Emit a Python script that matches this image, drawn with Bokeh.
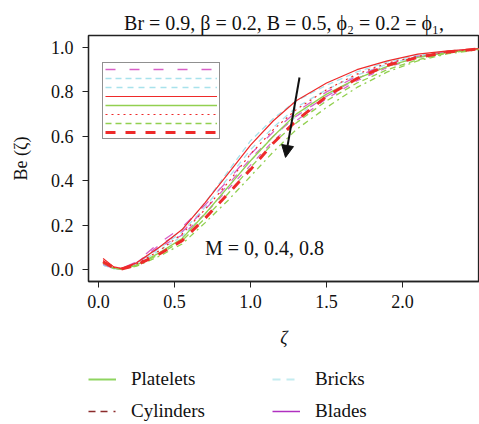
from bokeh.plotting import figure
from bokeh.layouts import column
from bokeh.models import Range1d, Legend, LegendItem, Label, Arrow, NormalHead, FixedTicker, NumeralTickFormatter
from bokeh.embed import file_html
from bokeh.resources import INLINE

SERIF = "Liberation Serif"

zeta = [0.03, 0.1, 0.15, 0.25, 0.4, 0.55, 0.7, 0.85, 1.0, 1.15, 1.3, 1.5, 1.7, 1.9, 2.1, 2.3, 2.5]

cyl_m0 = [0.05, 0.012, 0.005, 0.03, 0.10, 0.18, 0.30, 0.43, 0.56, 0.67, 0.76, 0.84, 0.90, 0.94, 0.97, 0.985, 0.995]
cyl_m4 = [0.04, 0.010, 0.004, 0.025, 0.085, 0.16, 0.27, 0.39, 0.52, 0.63, 0.72, 0.81, 0.88, 0.93, 0.96, 0.98, 0.994]
cyl_m8 = [0.035, 0.008, 0.002, 0.02, 0.07, 0.13, 0.23, 0.34, 0.45, 0.57, 0.67, 0.78, 0.86, 0.92, 0.955, 0.98, 0.993]
pla_m0 = [0.03, 0.006, 0.002, 0.02, 0.075, 0.14, 0.25, 0.37, 0.49, 0.60, 0.70, 0.79, 0.86, 0.915, 0.955, 0.978, 0.993]
pla_m4 = [0.03, 0.006, 0.002, 0.018, 0.068, 0.13, 0.23, 0.34, 0.46, 0.57, 0.66, 0.76, 0.84, 0.90, 0.945, 0.975, 0.992]
pla_m8 = [0.03, 0.005, 0.001, 0.015, 0.06, 0.115, 0.21, 0.31, 0.42, 0.53, 0.63, 0.73, 0.82, 0.89, 0.94, 0.972, 0.99]
bri_m0 = [0.02, 0.004, 0.003, 0.03, 0.10, 0.18, 0.30, 0.44, 0.58, 0.68, 0.76, 0.83, 0.89, 0.935, 0.965, 0.984, 0.994]
bri_m4 = [0.02, 0.004, 0.003, 0.028, 0.095, 0.17, 0.28, 0.41, 0.54, 0.64, 0.73, 0.81, 0.875, 0.925, 0.96, 0.982, 0.993]
bri_m8 = [0.02, 0.004, 0.003, 0.025, 0.085, 0.15, 0.25, 0.37, 0.49, 0.60, 0.69, 0.78, 0.86, 0.915, 0.955, 0.98, 0.992]
bla_m0 = [0.025, 0.005, 0.004, 0.035, 0.12, 0.19, 0.29, 0.40, 0.52, 0.62, 0.71, 0.80, 0.87, 0.925, 0.96, 0.982, 0.994]
bla_m4 = [0.025, 0.005, 0.003, 0.03, 0.11, 0.17, 0.27, 0.38, 0.50, 0.60, 0.69, 0.78, 0.86, 0.92, 0.958, 0.981, 0.993]
bla_m8 = [0.025, 0.005, 0.003, 0.027, 0.10, 0.155, 0.25, 0.36, 0.47, 0.58, 0.67, 0.77, 0.85, 0.91, 0.955, 0.98, 0.992]

legend_labels = ["Platelets", "Cylinders", "Bricks", "Blades"]
title_text = "Br = 0.9, \u03b2 = 0.2, B = 0.5, \u03d5\u2082 = 0.2 = \u03d5\u2081,"
annot_text = "M = 0, 0.4, 0.8"
x_ticks = [0.0, 0.5, 1.0, 1.5, 2.0]
y_ticks = [0.0, 0.2, 0.4, 0.6, 0.8, 1.0]
arrow_start = (1.322, 0.865)
arrow_end = (1.23, 0.505)
annot_pos = (0.70, 0.095)

RED = "#ee2a2a"
GREEN = "#92d050"
CYAN = "#a8e2ec"
MAG = "#d860c8"

p = figure(width=479, height=367, output_backend="svg", toolbar_location=None,
           x_range=Range1d(-0.066, 2.506), y_range=Range1d(-0.054, 1.054),
           min_border_left=88, min_border_right=0, min_border_top=35, min_border_bottom=86)
p.frame_align = False
p.grid.visible = False
p.outline_line_color = "#222222"
p.outline_line_width = 1.3
p.background_fill_color = "white"

p.title.text = title_text
p.title.align = "center"
p.title.text_font = SERIF
p.title.text_font_style = "normal"
p.title.text_font_size = "20px"
p.title.text_color = "#111111"
p.title.standoff = 4

for ax in (p.xaxis[0], p.yaxis[0]):
    ax.major_label_text_font = SERIF
    ax.major_label_text_font_size = "18px"
    ax.major_label_text_color = "#111111"
    ax.axis_label_text_font = SERIF
    ax.axis_label_text_font_style = "normal"
    ax.axis_label_text_font_size = "18px"
    ax.axis_label_text_color = "#111111"
    ax.minor_tick_line_color = None
    ax.major_tick_in = 0
    ax.major_tick_out = 6
    ax.axis_line_color = "#222222"
    ax.major_tick_line_color = "#222222"
    ax.axis_line_width = 1.3
    ax.formatter = NumeralTickFormatter(format="0.0")

p.xaxis.ticker = FixedTicker(ticks=x_ticks)
p.yaxis.ticker = FixedTicker(ticks=y_ticks)
p.xaxis.axis_label = "\u03b6"
p.xaxis.axis_label_text_font_style = "italic"
p.yaxis.axis_label = "Be (\u03b6)"
p.xaxis.major_label_standoff = 7
p.xaxis.axis_label_standoff = 17
p.yaxis.major_label_standoff = 9
p.yaxis.axis_label_standoff = 17

# curves
r_bri0 = p.line(zeta, bri_m0, color=CYAN, line_width=1.3, line_dash="6 4")
r_bri4 = p.line(zeta, bri_m4, color=CYAN, line_width=1.3, line_dash="6 5")
r_bri8 = p.line(zeta, bri_m8, color=CYAN, line_width=1.3, line_dash="4 4")
r_bla0 = p.line(zeta, bla_m0, color=MAG, line_width=1.3, line_dash="10 14")
r_bla4 = p.line(zeta, bla_m4, color=MAG, line_width=1.2, line_dash="8 10")
r_bla8 = p.line(zeta, bla_m8, color=MAG, line_width=1.2, line_dash="6 8")
r_pla0 = p.line(zeta, pla_m0, color=GREEN, line_width=1.3)
r_pla4 = p.line(zeta, pla_m4, color=GREEN, line_width=1.3, line_dash="6 4")
r_pla8 = p.line(zeta, pla_m8, color=GREEN, line_width=1.3, line_dash="6 4 2 4")
r_cyl0 = p.line(zeta, cyl_m0, color=RED, line_width=1.2)
r_cyl4 = p.line(zeta, cyl_m4, color=RED, line_width=1.2, line_dash="2 4")
r_cyl8 = p.line(zeta, cyl_m8, color=RED, line_width=3, line_dash="10 10")

# inset legend (samples only)
inset = Legend(items=[
    LegendItem(label=" ", renderers=[r_bla0]),
    LegendItem(label=" ", renderers=[r_bri0]),
    LegendItem(label=" ", renderers=[r_bri4]),
    LegendItem(label=" ", renderers=[r_cyl0]),
    LegendItem(label=" ", renderers=[r_pla0]),
    LegendItem(label=" ", renderers=[r_cyl4]),
    LegendItem(label=" ", renderers=[r_pla4]),
    LegendItem(label=" ", renderers=[r_cyl8]),
], location=(14, 142), glyph_width=112, glyph_height=8, label_height=8, label_width=0,
   label_standoff=0, label_text_font_size="1px", spacing=1, padding=2, margin=0,
   border_line_color="#222222", border_line_width=1.5, background_fill_alpha=1)
p.add_layout(inset, "center")

p.add_layout(Label(x=annot_pos[0], y=annot_pos[1], text=annot_text, text_font=SERIF,
                   text_font_size="20px", text_color="#111111", text_baseline="middle"))
p.add_layout(Arrow(x_start=arrow_start[0], y_start=arrow_start[1], x_end=arrow_end[0], y_end=arrow_end[1],
                   line_width=2, line_color="#111111",
                   end=NormalHead(size=12, fill_color="#111111", line_color="#111111")))

# legend figure below (its sample lines lie outside its visible range)
q = figure(width=479, height=57, output_backend="svg", toolbar_location=None,
           x_axis_type=None, y_axis_type=None,
           x_range=Range1d(10, 11), y_range=Range1d(10, 11),
           min_border_left=0, min_border_right=0, min_border_top=0, min_border_bottom=0)
q.frame_align = False
q.grid.visible = False
q.outline_line_color = None

lg_pla = q.line(zeta, pla_m0, color="#8fd460", line_width=2)
lg_cyl = q.line(zeta, cyl_m0, color="#8b2b2b", line_width=1.3, line_dash="7 5 7 6 2 20")
lg_bri = q.line(zeta, bri_m0, color="#c4ecf0", line_width=2, line_dash="8 6")
lg_bla = q.line(zeta, bla_m0, color="#b030c0", line_width=1.5)

common = dict(orientation="vertical", glyph_width=28, glyph_height=20,
              label_height=24, label_standoff=15, spacing=8, padding=0, margin=0,
              label_text_font=SERIF, label_text_font_size="19px", label_text_color="#111111",
              border_line_color=None, background_fill_alpha=0)
leg_a = Legend(items=[
    LegendItem(label=legend_labels[0], renderers=[lg_pla]),
    LegendItem(label=legend_labels[1], renderers=[lg_cyl]),
], location=(88, 1), **common)
leg_b = Legend(items=[
    LegendItem(label=legend_labels[2], renderers=[lg_bri]),
    LegendItem(label=legend_labels[3], renderers=[lg_bla]),
], location=(272, 1), **common)
q.add_layout(leg_a, "center")
q.add_layout(leg_b, "center")

layout = column(p, q, spacing=0)
open("out.html", "w").write(file_html(layout, INLINE))
